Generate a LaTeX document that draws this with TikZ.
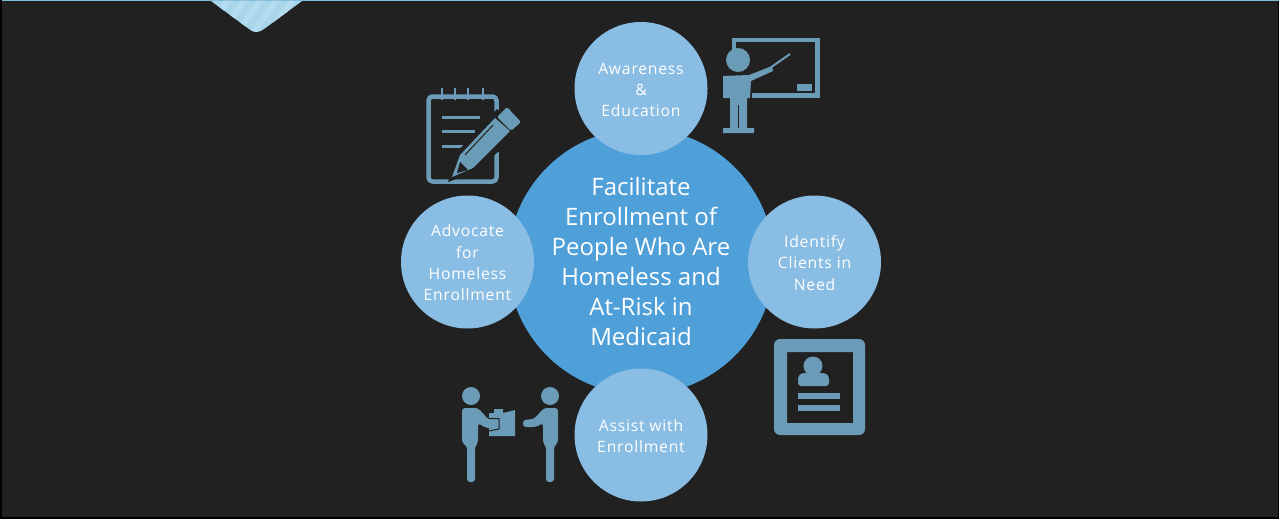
\documentclass[tikz,border=0pt]{standalone}
\usepackage{fontspec}
\setmainfont{Open Sans}
\definecolor{bgc}{HTML}{212121}
\definecolor{bigc}{HTML}{4F9FD8}
\definecolor{smallc}{HTML}{8ABDE3}
\definecolor{iconc}{HTML}{6A9CB8}
\definecolor{tabc}{HTML}{A9D5EA}
\definecolor{tabd}{HTML}{B5DBEE}
\definecolor{topc}{HTML}{7CBBD8}
\tikzset{
  bigcirc/.style={circle,fill=bigc,minimum size=266pt,inner sep=0pt,text=white,align=center,font=\fontsize{24}{30}\selectfont},
  smallcirc/.style={circle,fill=smallc,minimum size=133pt,inner sep=0pt,text=white,align=center,font=\fontsize{15.7}{21.2}\selectfont\addfontfeatures{LetterSpace=5}},
  iconline/.style={draw=iconc,line join=round,fill=none}
}
\begin{document}
\begin{tikzpicture}[x=1pt,y=-1pt]
\useasboundingbox (0,0) rectangle (1279,519);
\fill[black] (0,0) rectangle (1279,519);
\fill[bgc] (2,1) rectangle (1278,517);
\fill[topc] (2,0) rectangle (1279,1.2);
% tab
\begin{scope}
\clip (211,1) -- (249,29) .. controls (254,33) and (259,33) .. (264,29) -- (302,1) -- cycle;
\fill[tabc] (205,0) rectangle (308,35);
\foreach \k in {0,...,7}{
  \fill[tabd] (200+\k*16,35) -- (207+\k*16,35) -- (232+\k*16,0) -- (225+\k*16,0) -- cycle;
}
\end{scope}
% circles
\node[bigcirc] (hub) at (641,261.6) {Facilitate\\Enrollment of\\People Who Are\\Homeless and\\At-Risk in\\Medicaid};
\node[smallcirc] (aware) at (641,88.5) {};
\node[smallcirc] (ident) at (814.5,262) {};
\node[smallcirc] (assist) at (641,435) {};
\node[smallcirc] (advoc) at (467.5,262) {};
\node[smallcirc,fill=none] (awaret) at (641,90) {Awareness\\\&\\Education};
\node[smallcirc,fill=none] (identt) at (814.5,263) {Identify\\Clients in\\Need};
\node[smallcirc,fill=none] (assistt) at (641,436) {Assist with\\Enrollment};
\node[smallcirc,fill=none] (advoct) at (467.5,262.8) {Advocate\\for\\Homeless\\Enrollment};
% teacher icon
\draw[iconc,line width=4.5pt] (734,50) -- (734,40) -- (817.5,40) -- (817.5,95.5) -- (752,95.5);
\fill[iconc] (797,84) rectangle (812,91);
\fill[iconc] (738,60) circle (12);
\fill[iconc] (723,76) -- (749,75) -- (772,66) -- (773,71) -- (751,81) -- (750,98) -- (747,98) -- (747,128) -- (754,128) -- (754,133) -- (723,133) -- (723,128) -- (730,128) -- (730,98) -- (723,98) -- cycle;
\fill[bgc] (737.5,105) rectangle (739,128);
\draw[iconc,line width=2pt] (770,68) -- (790,54);
% notepad icon
\draw[iconline,line width=4.5pt,rounded corners=4pt] (496.5,113) -- (496.5,96.5) -- (428.5,96.5) -- (428.5,181.5) -- (496.5,181.5) -- (496.5,152);
\foreach \x in {442,455,468,483}{\draw[iconc,line width=2.5pt] (\x,88) -- (\x,100);}
\draw[iconc,line width=3pt] (442,117) -- (480,117);
\draw[iconc,line width=3pt] (442,131) -- (475,131);
\draw[iconc,line width=3pt] (442,146) -- (465,146);
\fill[bgc] (457,152) -- (497,109) -- (524,128) -- (476,172) -- (448,182) -- cycle;
\fill[iconc] (452,177) -- (460,155) -- (495,118) -- (510,131) -- (473,168) -- cycle;
\fill[iconc,rounded corners=2pt] (497,117) -- (507,107) -- (521,122) -- (511,131) -- cycle;
\fill[bgc] (460,162) -- (468,170) -- (457,173) -- cycle;
\draw[bgc,line width=1pt] (465,155) -- (493,125);
% id card icon
\fill[iconc,even odd rule,rounded corners=6pt] (774,339) rectangle (865,435) [sharp corners] (787,352) rectangle (853,423);
\fill[iconc] (813,366) circle (9.5);
\fill[iconc,rounded corners=3pt] (798,386) -- (798,376) -- (802,373) -- (825,373) -- (829,376) -- (829,386) -- cycle;
\fill[iconc] (798,393) rectangle (840,399);
\fill[iconc] (798,405) rectangle (840,410.5);
% handover icon
\fill[iconc] (471,396) circle (9);
\fill[iconc] (550,396) circle (9);
\fill[iconc,rounded corners=3pt] (462,443) -- (462,408) -- (478,408) -- (489,420) -- (498,420) -- (498,428) -- (486,428) -- (478,423) -- (478,443) -- (475,446) -- (475,482) -- (467,482) -- (467,446) -- cycle;
\fill[iconc,rounded corners=3pt] (558,443) -- (558,408) -- (544,408) -- (534,419) -- (523,420) -- (523,427) -- (536,427) -- (543,423) -- (543,443) -- (546,446) -- (546,482) -- (554,482) -- (554,446) -- cycle;
\fill[iconc] (489,413) -- (494,413) -- (494,409) -- (503,409) -- (503,413) -- (515,410) -- (515,436) -- (489,436) -- cycle;
\draw[bgc,line width=1pt] (489,418.5) -- (499,418.5) -- (499,429) -- (489,431);
\end{tikzpicture}
\end{document}
